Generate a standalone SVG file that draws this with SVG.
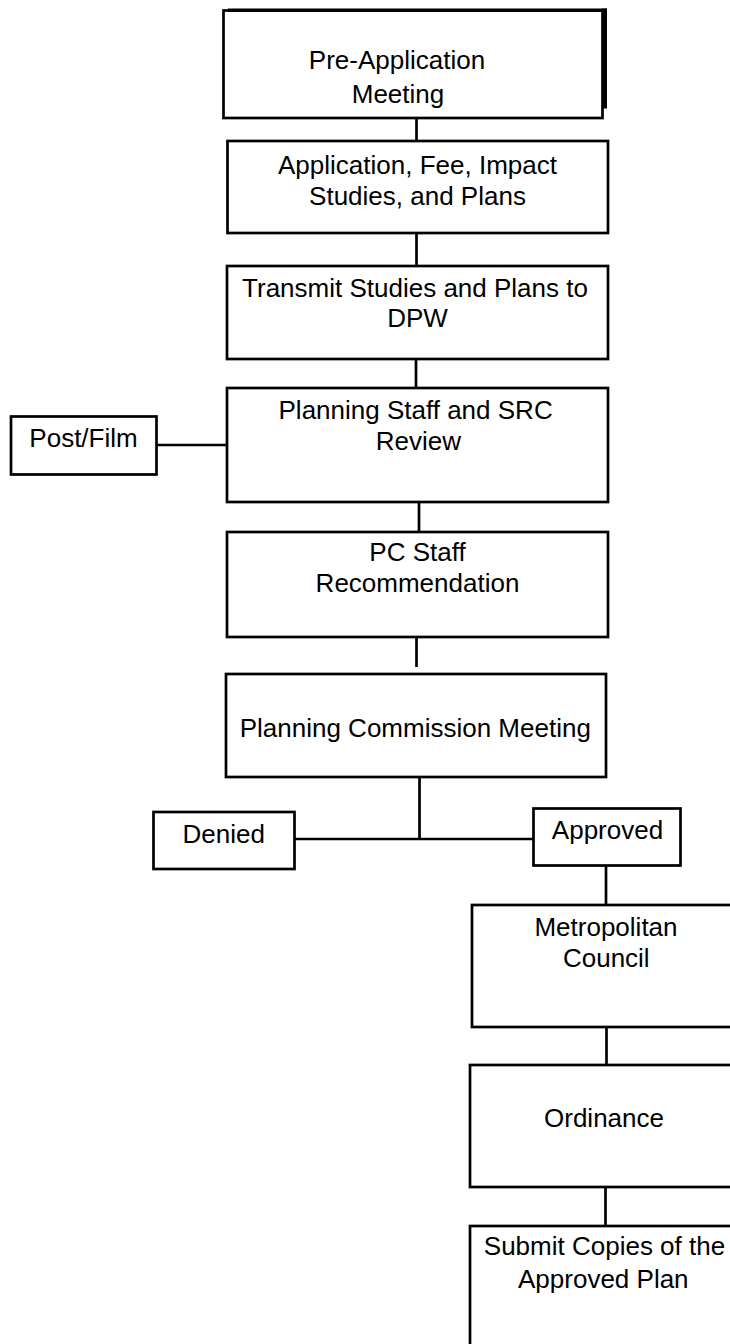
<svg xmlns="http://www.w3.org/2000/svg" width="730" height="1344" viewBox="0 0 730 1344">
<style>
.box{fill:#fff;stroke:#000;stroke-width:2.7}
.conn line{stroke:#000;stroke-width:2.7}
text{font-family:"Liberation Sans",Arial,sans-serif;font-size:26px;fill:#000;text-anchor:middle}
</style>
<rect width="730" height="1344" fill="#fff"/>
<g id="connectors" class="conn">
<line x1="416.5" y1="118" x2="416.5" y2="141"/>
<line x1="416.5" y1="233" x2="416.5" y2="266"/>
<line x1="416" y1="359" x2="416" y2="388"/>
<line x1="157" y1="445" x2="227" y2="445"/>
<line x1="419" y1="502" x2="419" y2="532"/>
<line x1="416.5" y1="637" x2="416.5" y2="667"/>
<line x1="419.5" y1="775" x2="419.5" y2="839"/>
<line x1="295" y1="839" x2="533.5" y2="839"/>
<line x1="606" y1="866" x2="606" y2="905"/>
<line x1="606.5" y1="1027" x2="606.5" y2="1065"/>
<line x1="605.5" y1="1187" x2="605.5" y2="1226"/>
</g>
<g id="pre-application">
<rect class="box" x="223.5" y="10.5" width="379" height="107.5"/>
<rect x="228" y="8.5" width="379" height="3.5" fill="#000"/>
<rect x="602" y="8.5" width="5" height="100" fill="#000"/>
<text x="397" y="68.5">Pre-Application</text>
<text x="398" y="103">Meeting</text>
</g>
<g id="application">
<rect class="box" x="227.5" y="141" width="380.5" height="92"/>
<text x="417.5" y="174">Application, Fee, Impact</text>
<text x="417.5" y="205">Studies, and Plans</text>
</g>
<g id="transmit">
<rect class="box" x="227" y="266" width="381" height="93"/>
<text x="415" y="296.5">Transmit Studies and Plans to</text>
<text x="417.5" y="327">DPW</text>
</g>
<g id="staff-review">
<rect class="box" x="227" y="388" width="381" height="114"/>
<text x="415.6" y="418.5">Planning Staff and SRC</text>
<text x="418.3" y="450">Review</text>
</g>
<g id="post-film">
<rect class="box" x="11" y="416.5" width="145.5" height="58"/>
<text x="83.5" y="446.5">Post/Film</text>
</g>
<g id="pc-staff">
<rect class="box" x="227" y="532" width="381" height="105"/>
<text x="417.5" y="561">PC Staff</text>
<text x="417.5" y="592">Recommendation</text>
</g>
<g id="commission">
<rect class="box" x="226" y="674" width="380" height="103"/>
<text x="415.3" y="737">Planning Commission Meeting</text>
</g>
<g id="denied">
<rect class="box" x="153.5" y="812" width="141" height="57"/>
<text x="223.7" y="842.5">Denied</text>
</g>
<g id="approved">
<rect class="box" x="533.5" y="808.5" width="147" height="57"/>
<text x="607.5" y="839">Approved</text>
</g>
<g id="metro-council">
<rect class="box" x="472" y="905" width="290" height="122"/>
<text x="606" y="935.5">Metropolitan</text>
<text x="606.3" y="966.5">Council</text>
</g>
<g id="ordinance">
<rect class="box" x="470" y="1065" width="290" height="122"/>
<text x="604" y="1126.5">Ordinance</text>
</g>
<g id="submit">
<rect class="box" x="470" y="1226" width="290" height="150"/>
<text x="604.5" y="1255">Submit Copies of the</text>
<text x="603.3" y="1288">Approved Plan</text>
</g>
</svg>
